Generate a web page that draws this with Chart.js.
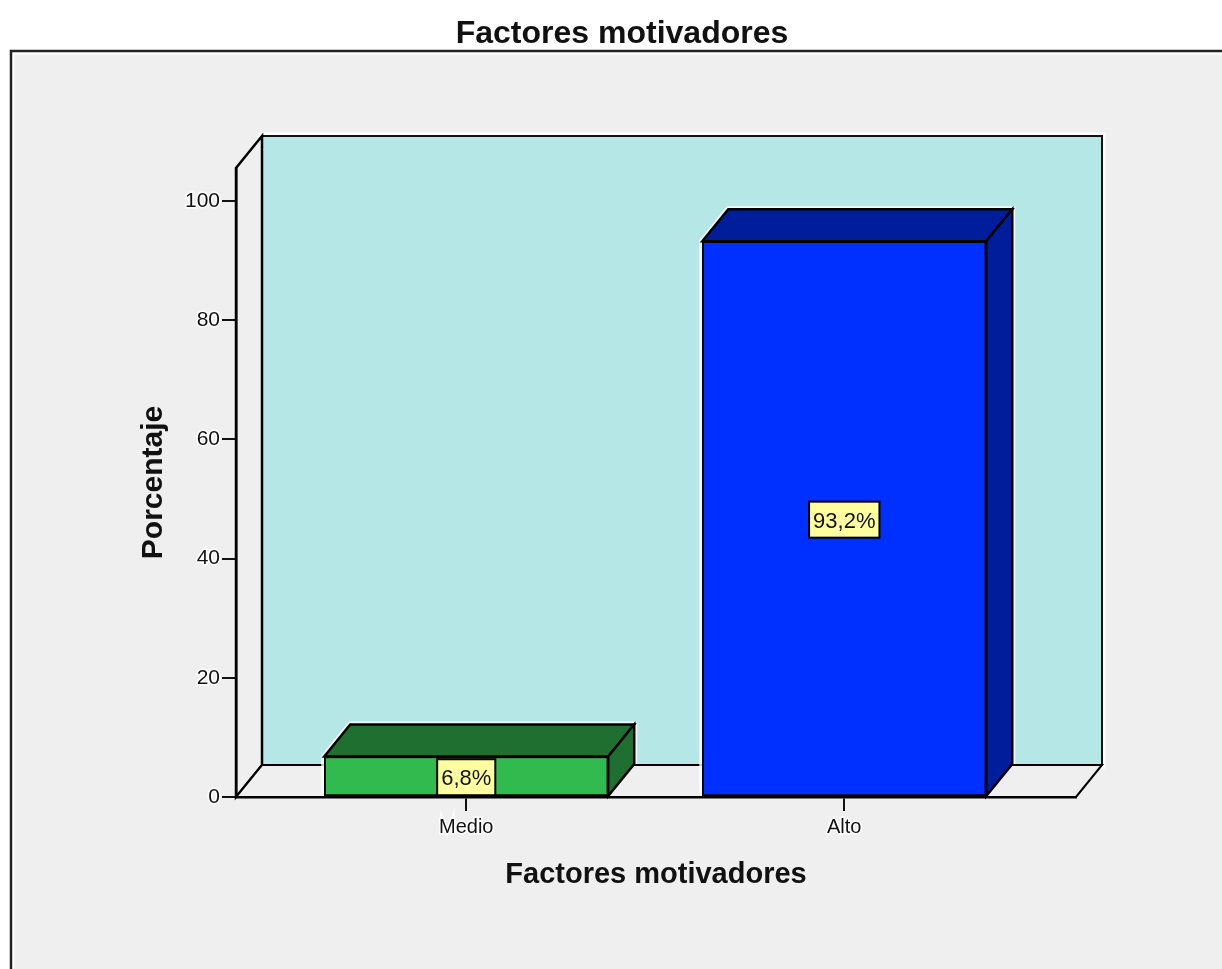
<!DOCTYPE html>
<html>
<head>
<meta charset="utf-8">
<title>Factores motivadores</title>
<script src="https://cdn.jsdelivr.net/npm/chart.js@4"></script>
<style>
    html, body { margin: 0; padding: 0; background: #fff; overflow: hidden; }
    #chart { display: block; }
</style>
</head>
<body>
<canvas id="chart" width="1244" height="969"></canvas>
<script>
// dati
const categories = ['Medio', 'Alto'];
const percentages = [6.8, 93.2];
const valueLabels = ['6,8%', '93,2%'];
const yTicks = [0, 20, 40, 60, 80, 100];

const chartTitle = 'Factores motivadores';
const xTitle = 'Factores motivadores';
const yTitle = 'Porcentaje';

// colori
const FRONT_COLORS = ['#31bb4e', '#0030ff'];
const SHADE_COLORS = ['#1f6f30', '#001e9c'];
const WALL_COLOR = '#b5e7e7';
const PANEL_COLOR = '#efefef';
const FONT = '"Liberation Sans", Arial, sans-serif';

// profondita' del finto 3D
const DEPTH_X = 26;
const DEPTH_Y = -32;

function poly(ctx, pts, fill, stroke, width) {
    ctx.beginPath();
    pts.forEach((p, i) => i ? ctx.lineTo(p[0], p[1]) : ctx.moveTo(p[0], p[1]));
    ctx.closePath();
    if (fill) {
        ctx.fillStyle = fill;
        ctx.fill();
    }
    if (stroke) {
        ctx.strokeStyle = stroke;
        ctx.lineWidth = width;
        ctx.lineJoin = 'miter';
        ctx.stroke();
    }
}

const scenePlugin = {
    id: 'scene',
    // il titolo e' centrato su tutta la tela, non sull'area con padding
    afterLayout(chart) {
        chart.titleBlock.left = 0;
        chart.titleBlock.right = chart.width;
    },
    // pannello grigio, pareti e pavimento
    beforeDraw(chart) {
        const { ctx, chartArea: a, width, height } = chart;
        ctx.save();
        ctx.fillStyle = '#fff';
        ctx.fillRect(0, 0, width, height);
        ctx.fillStyle = PANEL_COLOR;
        ctx.fillRect(11, 51, width, height);
        ctx.strokeStyle = '#fff';
        ctx.lineWidth = 7;
        ctx.strokeRect(11, 51, width, height);
        ctx.strokeStyle = '#222';
        ctx.lineWidth = 2.5;
        ctx.beginPath();
        ctx.moveTo(11, height);
        ctx.lineTo(11, 51);
        ctx.lineTo(width, 51);
        ctx.stroke();

        const bl = [a.left + DEPTH_X, a.bottom + DEPTH_Y];
        const br = [a.right + DEPTH_X, a.bottom + DEPTH_Y];
        const tl = [a.left + DEPTH_X, a.top + DEPTH_Y];
        const tr = [a.right + DEPTH_X, a.top + DEPTH_Y];

        // alone chiaro attorno alle pareti
        poly(ctx, [tl, tr, br, bl], null, '#fff', 7);
        poly(ctx, [tl, tr, br, bl], WALL_COLOR, '#111', 2);
        poly(ctx, [[a.left, a.top], tl, bl, [a.left, a.bottom]], PANEL_COLOR, '#000', 2.5);
        poly(ctx, [[a.left, a.bottom], bl, br, [a.right, a.bottom]], PANEL_COLOR, '#000', 2);
        ctx.restore();
    },
    // facce superiori e laterali delle barre
    beforeDatasetsDraw(chart) {
        const { ctx } = chart;
        ctx.save();
        chart.getDatasetMeta(0).data.forEach((bar, i) => {
            const left = bar.x - bar.width / 2;
            const right = bar.x + bar.width / 2;
            const top = bar.y;
            const base = bar.base;
            // alone solo sui bordi alti, la base resta sulla linea dell'asse
            ctx.beginPath();
            ctx.moveTo(left, base - 3);
            ctx.lineTo(left, top);
            ctx.lineTo(left + DEPTH_X, top + DEPTH_Y);
            ctx.lineTo(right + DEPTH_X, top + DEPTH_Y);
            ctx.lineTo(right + DEPTH_X, base + DEPTH_Y);
            ctx.strokeStyle = 'rgba(255,255,255,0.8)';
            ctx.lineWidth = 6;
            ctx.stroke();
            poly(ctx, [[left, top], [left + DEPTH_X, top + DEPTH_Y], [right + DEPTH_X, top + DEPTH_Y], [right, top]], SHADE_COLORS[i], '#000', 2.5);
            poly(ctx, [[right, top], [right + DEPTH_X, top + DEPTH_Y], [right + DEPTH_X, base + DEPTH_Y], [right, base]], SHADE_COLORS[i], '#000', 2.5);
        });
        ctx.restore();
    },
    // etichette gialle con il valore
    afterDatasetsDraw(chart) {
        const { ctx } = chart;
        ctx.save();
        ctx.font = '22px ' + FONT;
        ctx.textAlign = 'center';
        ctx.textBaseline = 'middle';
        chart.getDatasetMeta(0).data.forEach((bar, i) => {
            const cx = bar.x;
            const cy = (bar.y + bar.base) / 2 + 1;
            const w = ctx.measureText(valueLabels[i]).width + 8;
            const h = 36;
            ctx.fillStyle = '#ffff9f';
            ctx.fillRect(cx - w / 2, cy - h / 2, w, h);
            ctx.strokeStyle = '#000';
            ctx.lineWidth = 2;
            ctx.strokeRect(cx - w / 2, cy - h / 2, w, h);
            ctx.fillStyle = '#111';
            ctx.fillText(valueLabels[i], cx, cy + 2);
        });
        ctx.restore();
    }
};

new Chart(document.getElementById('chart'), {
    type: 'bar',
    data: {
        datasets: [{
            data: categories.map((c, i) => ({ x: i + 1, y: percentages[i] })),
            backgroundColor: FRONT_COLORS,
            borderColor: '#000',
            borderWidth: 2,
            borderSkipped: false,
            barThickness: 284
        }]
    },
    plugins: [scenePlugin],
    options: {
        responsive: false,
        animation: false,
        layout: { padding: { left: 136, right: 168, top: 0, bottom: 77 } },
        plugins: {
            legend: { display: false },
            tooltip: { enabled: false },
            title: {
                display: true,
                text: chartTitle,
                color: '#111',
                font: { family: FONT, size: 32, weight: 'bold' },
                padding: { top: 15, bottom: 114.6 }
            }
        },
        scales: {
            x: {
                type: 'linear',
                offset: false,
                min: 0.391,
                max: 2.613,
                afterBuildTicks(scale) {
                    scale.ticks = categories.map((c, i) => ({ value: i + 1 }));
                },
                afterFit(scale) { scale.height = 95; },
                grid: { offset: false, drawOnChartArea: false, color: '#111', lineWidth: 2, tickLength: 14 },
                border: { color: '#000', width: 2.5 },
                ticks: {
                    color: '#111',
                    font: { family: FONT, size: 20 },
                    textStrokeColor: '#fff',
                    textStrokeWidth: 3,
                    padding: 4,
                    maxRotation: 0,
                    autoSkip: false,
                    callback: v => categories[v - 1]
                },
                title: {
                    display: true,
                    text: xTitle,
                    color: '#111',
                    font: { family: FONT, size: 29, weight: 'bold' },
                    padding: { top: 0, bottom: 0 }
                }
            },
            y: {
                min: 0,
                max: 105.5,
                afterBuildTicks(scale) {
                    scale.ticks = yTicks.map(v => ({ value: v }));
                },
                afterFit(scale) { scale.width = 100; },
                grid: { drawOnChartArea: false, color: '#111', lineWidth: 2, tickLength: 14 },
                border: { color: '#000', width: 2.5 },
                ticks: {
                    color: '#111',
                    font: { family: FONT, size: 21 },
                    textStrokeColor: '#fff',
                    textStrokeWidth: 3,
                    padding: 2
                },
                title: {
                    display: true,
                    text: yTitle,
                    color: '#111',
                    font: { family: FONT, size: 30, weight: 'bold' },
                    padding: { top: 0, bottom: 0 }
                }
            }
        }
    }
});
</script>
</body>
</html>
